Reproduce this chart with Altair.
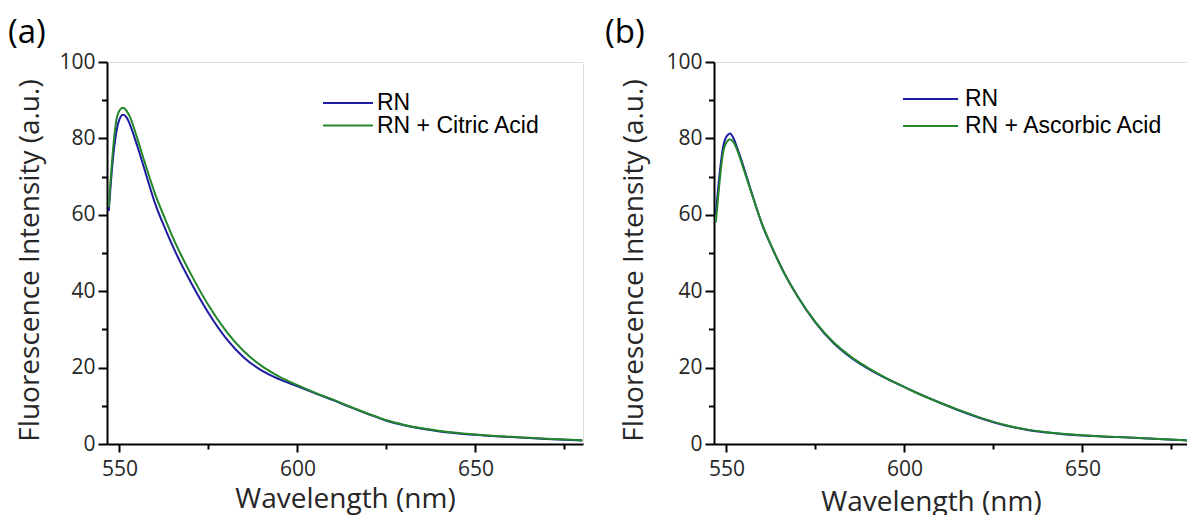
import altair as alt
import pandas as pd

# Emission spectra (wavelength in nm, intensity in a.u.)
wavelength = [547, 548, 549, 550, 551, 552, 553, 555, 557, 560, 563, 566, 570, 575,
              580, 585, 590, 595, 600, 605, 610, 615, 620, 625, 630, 635, 640, 650,
              660, 670, 680]

rn_a = [61, 73, 81, 85, 86.2, 85.5, 83.5, 78, 72, 63, 56, 49.7, 42.4, 34.3,
        27.6, 22.6, 19.2, 16.9, 15.1, 13.3, 11.5, 9.6, 7.8, 6.1, 4.9, 4.0, 3.3, 2.4,
        1.8, 1.3, 0.9]
rn_citric = [62, 75, 84, 87.3, 88, 87.2, 85.5, 80, 74, 65.5, 58.5, 52, 44.6, 36.3,
             29.5, 24.2, 20.4, 17.6, 15.4, 13.4, 11.6, 9.7, 7.9, 6.2, 5.0, 4.1, 3.4, 2.5,
             1.9, 1.4, 1.0]

rn_b = [60, 70, 77.5, 80.5, 81.3, 80, 77.5, 72, 66, 57.5, 51, 45.2, 38.6, 31.8,
        26.5, 22.6, 19.6, 17.1, 14.9, 12.8, 10.8, 8.9, 7.2, 5.7, 4.5, 3.6, 3.0, 2.2,
        1.8, 1.4, 0.9]
rn_ascorbic = [58, 68, 76, 79, 79.8, 79, 77, 71.5, 65.8, 57.6, 51, 45.1, 38.6, 31.9,
               26.7, 22.8, 19.8, 17.2, 14.9, 12.7, 10.8, 9.0, 7.3, 5.8, 4.6, 3.7, 3.1, 2.3,
               1.8, 1.4, 0.9]

labels_a = ["RN", "RN + Citric Acid"]
labels_b = ["RN", "RN + Ascorbic Acid"]
line_colors = ["#1c1ca2", "#23862a"]

x_ticks = [550, 575, 600, 625, 650, 675]
y_ticks = [0, 10, 20, 30, 40, 50, 60, 70, 80, 90, 100]

FONT = "Open Sans"
INK = "#262626"
W, H = 476, 382


def long_table(labels, series):
    rows = []
    for name, values in zip(labels, series):
        for wl, v in zip(wavelength, values):
            rows.append({"wavelength": wl, "intensity": v, "series": name})
    return pd.DataFrame(rows)


def panel(labels, series, tag, tag_x, ytitle_x, xtitle_x, xtitle_y,
          leg_x, leg_y, leg_gap, leg_len, leg_text_gap, leg_font):
    df = long_table(labels, series)
    color = alt.Color("series:N", scale=alt.Scale(domain=labels, range=line_colors),
                      legend=None)

    x_axis = alt.Axis(
        values=x_ticks,
        labelExpr="datum.value % 50 === 0 ? datum.label : ''",
        tickSize={"condition": {"test": "datum.value % 50 === 0", "value": 8}, "value": 5},
        tickColor="black", tickWidth=2,
        domainColor="black", domainWidth=2,
        labelFont=FONT, labelFontSize=21, labelColor=INK, labelPadding=6,
        labelFlush=False, labelOverlap=False, grid=False,
        title="Wavelength (nm)", titleFont=FONT, titleFontSize=28,
        titleFontWeight="normal", titleColor=INK,
        titleX=xtitle_x, titleY=xtitle_y, titleAlign="center",
        titleBaseline="alphabetic",
    )
    y_axis = alt.Axis(
        values=y_ticks,
        labelExpr="datum.value % 20 === 0 ? datum.label : ''",
        tickSize={"condition": {"test": "datum.value % 20 === 0", "value": 9}, "value": 5.5},
        tickColor="black", tickWidth=2,
        domainColor="black", domainWidth=2,
        labelFont=FONT, labelFontSize=21, labelColor=INK, labelPadding=3,
        labelFlush=False, labelOverlap=False, grid=False,
        title="Fluorescence Intensity (a.u.)", titleFont=FONT, titleFontSize=28,
        titleFontWeight="normal", titleColor=INK,
        titleX=ytitle_x, titleY=198, titleAngle=270, titleAlign="center",
        titleBaseline="middle",
    )

    lines = alt.Chart(df).mark_line(strokeWidth=2, interpolate="monotone").encode(
        x=alt.X("wavelength:Q", scale=alt.Scale(domain=[546.5, 680.2], nice=False, zero=False),
                axis=x_axis),
        y=alt.Y("intensity:Q", scale=alt.Scale(domain=[0, 100], nice=False), axis=y_axis),
        color=color,
        order=alt.Order("wavelength:Q"),
    )

    # legend drawn as short strokes with labels inside the plot
    leg = pd.DataFrame({"series": labels, "row": list(range(len(labels)))})
    leg_base = alt.Chart(leg).transform_calculate(ly=f"{leg_y} + datum.row * {leg_gap}")
    leg_lines = leg_base.mark_rule(strokeWidth=2).encode(
        x=alt.value(leg_x), x2=alt.value(leg_x + leg_len),
        y=alt.Y("ly:Q", scale=None, axis=None),
        color=color,
    )
    leg_text = leg_base.mark_text(align="left", baseline="middle", font="Liberation Sans",
                                  fontSize=leg_font, color="black").encode(
        x=alt.value(leg_x + leg_len + leg_text_gap),
        y=alt.Y("ly:Q", scale=None, axis=None),
        text="series:N",
    )

    tag_mark = alt.Chart(alt.Data(values=[{"tag": tag}])).mark_text(
        align="left", baseline="alphabetic", font=FONT, fontSize=33, color="black"
    ).encode(x=alt.value(tag_x), y=alt.value(-19), text="tag:N")

    return alt.layer(lines, leg_lines, leg_text, tag_mark).properties(width=W, height=H)


panel_a = panel(labels_a, [rn_a, rn_citric], "(a)", tag_x=-99, ytitle_x=-77,
                xtitle_x=238, xtitle_y=63, leg_x=216, leg_y=41, leg_gap=22.5,
                leg_len=50, leg_text_gap=4, leg_font=23)
panel_b = panel(labels_b, [rn_b, rn_ascorbic], "(b)", tag_x=-109, ytitle_x=-80,
                xtitle_x=217, xtitle_y=66, leg_x=189, leg_y=37, leg_gap=27,
                leg_len=55, leg_text_gap=7, leg_font=23)

chart = alt.hconcat(panel_a, panel_b, spacing=131, bounds="flush").resolve_scale(
    color="independent"
).properties(
    autosize=alt.AutoSizeParams(type="none"),
    padding={"left": 107, "top": 62, "right": 1080, "bottom": 453},
).configure_view(stroke="black", strokeWidth=2).configure(background="white")

chart.save("out.html", embed_options={"renderer": "svg", "actions": False})
